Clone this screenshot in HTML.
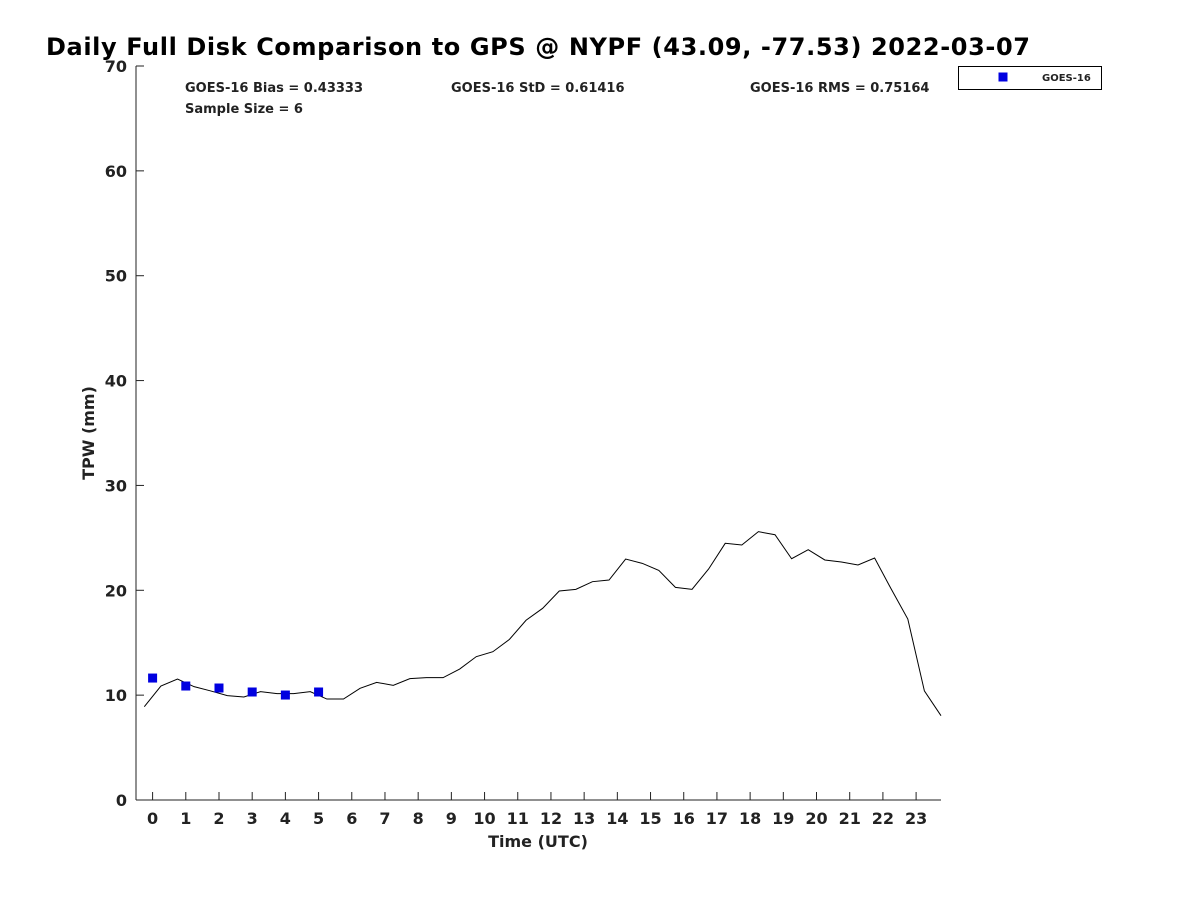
<!DOCTYPE html>
<html><head><meta charset="utf-8"><style>
body{margin:0;background:#fff}
text{font-family:"DejaVu Sans","Liberation Sans",sans-serif;font-weight:bold;fill:#222}
</style></head><body>
<svg id="chart" width="1200" height="900" xmlns="http://www.w3.org/2000/svg">
<text x="46" y="55" font-size="24" style="fill:#000" textLength="984">Daily Full Disk Comparison to GPS @ NYPF (43.09, -77.53) 2022-03-07</text>
<g id="axes"></g>
<g id="marks"></g>
<text x="185" y="92" font-size="13">GOES-16 Bias = 0.43333</text>
<text x="451" y="92" font-size="13">GOES-16 StD = 0.61416</text>
<text x="750" y="92" font-size="13">GOES-16 RMS = 0.75164</text>
<text x="185" y="113" font-size="13">Sample Size = 6</text>
<g>
<rect x="958.5" y="66.5" width="143" height="23" fill="#fff" stroke="#000" stroke-width="1"/>
<rect x="998.5" y="72.5" width="9" height="9" fill="#0000e0"/>
<text x="1042" y="81" font-size="10">GOES-16</text>
</g>
<text x="538" y="847" font-size="16" text-anchor="middle">Time (UTC)</text>
<text transform="translate(94,433) rotate(-90)" font-size="16" text-anchor="middle">TPW (mm)</text>
</svg>
<script>
const gpsTimes=[-0.25,0.25,0.75,1.25,1.75,2.25,2.75,3.25,3.75,4.25,4.75,5.25,5.75,6.25,6.75,7.25,7.75,8.25,8.75,9.25,9.75,10.25,10.75,11.25,11.75,12.25,12.75,13.25,13.75,14.25,14.75,15.25,15.75,16.25,16.75,17.25,17.75,18.25,18.75,19.25,19.75,20.25,20.75,21.25,21.75,22.25,22.75,23.25,23.75];
const gpsValues=[8.9,10.87,11.54,10.81,10.4,9.95,9.82,10.33,10.14,10.14,10.33,9.63,9.63,10.65,11.22,10.93,11.57,11.67,11.67,12.49,13.67,14.14,15.32,17.14,18.28,19.93,20.09,20.82,20.98,22.98,22.57,21.9,20.28,20.09,22.03,24.48,24.32,25.59,25.3,23.01,23.87,22.89,22.7,22.41,23.08,20.12,17.26,10.4,8.04];
const goesTimes=[0,1,2,3,4,5];
const goesValues=[11.63,10.87,10.68,10.3,10.01,10.3];
const xTicks=[0,1,2,3,4,5,6,7,8,9,10,11,12,13,14,15,16,17,18,19,20,21,22,23];
const yTicks=[0,10,20,30,40,50,60,70];
const NS='http://www.w3.org/2000/svg';
const X0=136,X1=941,Y0=800,Y1=66,xmin=-0.5,xmax=23.75,ymin=0,ymax=70;
const xs=v=>X0+(v-xmin)/(xmax-xmin)*(X1-X0);
const ys=v=>Y0-(v-ymin)/(ymax-ymin)*(Y0-Y1);
function mk(t,a,p){const e=document.createElementNS(NS,t);for(const k in a)e.setAttribute(k,a[k]);p.appendChild(e);return e;}
const axes=document.getElementById('axes'),marks=document.getElementById('marks');
const ya=mk('line',{x1:X0,y1:Y0,x2:X0,y2:Y1,stroke:'#222','stroke-width':1},axes);


const xa=mk('line',{x1:X0,y1:Y0,x2:X1,y2:Y0,stroke:'#222','stroke-width':1},axes);


xTicks.forEach(t=>{
 const l=mk('line',{x1:xs(t),y1:Y0,x2:xs(t),y2:Y0-8,stroke:'#222'},axes);
 
 
 const tx=mk('text',{x:xs(t),y:824,'font-size':16,'text-anchor':'middle'},axes);
 tx.textContent=t;
 
 
});
yTicks.forEach(t=>{
 const l=mk('line',{x1:X0,y1:ys(t),x2:X0+8,y2:ys(t),stroke:'#222'},axes);
 
 
 const tx=mk('text',{x:127,y:ys(t)+6,'font-size':16,'text-anchor':'end'},axes);
 tx.textContent=t;
 
 
});
const pl=mk('polyline',{points:gpsTimes.map((t,i)=>xs(t)+','+ys(gpsValues[i])).join(' '),fill:'none',stroke:'#000','stroke-width':1},marks);


goesTimes.forEach((t,i)=>{
 const r=mk('rect',{x:xs(t)-4.5,y:ys(goesValues[i])-4.5,width:9,height:9,fill:'#0000e0'},marks);
 
 
});
</script>
</body></html>
